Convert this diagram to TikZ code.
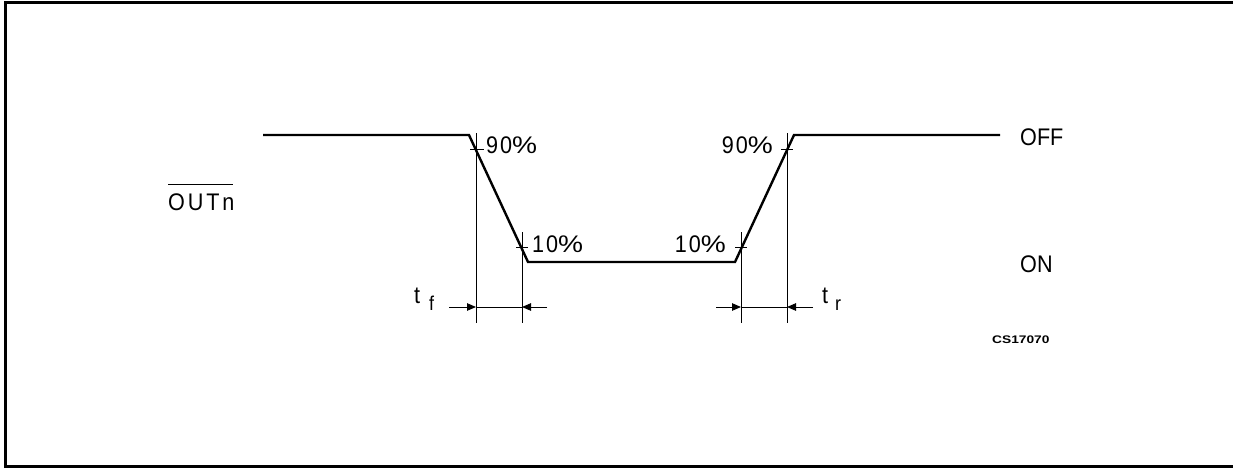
\documentclass[tikz,border=0pt]{standalone}
\usepackage{fontspec}
\usepackage{graphicx}
\usetikzlibrary{arrows.meta}
\newfontfamily\lbl[FakeStretch=0.9]{Liberation Sans}
\newfontfamily\lblw[FakeStretch=0.9,LetterSpace=8]{Liberation Sans}
\newfontfamily\lblww[FakeStretch=0.9,LetterSpace=12]{Liberation Sans}
\newfontfamily\csfont[FakeStretch=1.25]{Liberation Sans}
\newcommand{\wpct}{\scalebox{1.3}[1]{\%}}
\begin{document}
\begin{tikzpicture}[x=1pt,y=-1pt,
  signal/.style={line width=2.4pt,line join=miter},
  thin/.style={line width=0.9pt},
  dimarrow/.style={thin,-{Triangle[length=9pt,width=7.5pt]}},
  txt/.style={inner sep=0pt,font=\lbl\fontsize{24}{24}\selectfont},
  pct/.style={inner sep=0pt,font=\lblw\fontsize{24}{24}\selectfont},
  small/.style={inner sep=0pt,font=\csfont\bfseries\fontsize{11}{11}\selectfont}]
\useasboundingbox (0,0) rectangle (1233,468);
% frame (open at the right)
\draw[line width=3pt] (1233,2.5) -- (5,2.5) -- (5,466) -- (1233,466);
% signal corner points
\coordinate (s0) at (263,135);
\coordinate (s1) at (469,135);
\coordinate (s2) at (528,262);
\coordinate (s3) at (735,262);
\coordinate (s4) at (794,135);
\coordinate (s5) at (1000,135);
\draw[signal] (s0) -- (s1) -- (s2) -- (s3) -- (s4) -- (s5);
% reference verticals
\coordinate (fa) at (476,133); \coordinate (fab) at (476,323);
\coordinate (fb) at (522,232); \coordinate (fbb) at (522,323);
\coordinate (ra) at (741,232); \coordinate (rab) at (741,323);
\coordinate (rb) at (787,133); \coordinate (rbb) at (787,323);
\draw[thin] (fa) -- (fab) (fb) -- (fbb) (ra) -- (rab) (rb) -- (rbb);
% ticks
\draw[thin] (470,149) -- (484,149) (516,247) -- (528,247)
            (735,247) -- (747,247) (781,149) -- (793,149);
% dimension lines
\coordinate (fd1) at (476,307); \coordinate (fd2) at (522,307);
\coordinate (fl) at (449,307); \coordinate (fr) at (547,307);
\draw[dimarrow] (fl) -- (fd1);
\draw[thin] (fd1) -- (fd2);
\draw[dimarrow] (fr) -- (fd2);
\coordinate (rd1) at (741,307); \coordinate (rd2) at (787,307);
\coordinate (rl) at (716,307); \coordinate (rr) at (813,307);
\draw[dimarrow] (rl) -- (rd1);
\draw[thin] (rd1) -- (rd2);
\draw[dimarrow] (rr) -- (rd2);
% labels
\node[pct,anchor=base west] (p90f) at (486,153) {90\wpct};
\node[pct,anchor=base west] (p10f) at (532,252) {10\wpct};
\node[pct,anchor=base east] (p10r) at (726,252) {10\wpct};
\node[pct,anchor=base east] (p90r) at (773,153) {90\wpct};
\node[txt,anchor=base west] (off) at (1020,145) {OFF};
\node[txt,anchor=base west] (on) at (1020,272) {ON};
\node[txt,anchor=base west,font=\lblww\fontsize{24}{24}\selectfont] (outn) at (168,210) {OUTn};
\draw[line width=1pt] ([yshift=9pt]outn.north west) -- ([yshift=9pt,xshift=-2pt]outn.north east);
\node[txt,anchor=base west] (tf) at (414,303) {t};
\node[txt,anchor=base west,font=\lbl\fontsize{20}{20}\selectfont] (tfs) at (429,310) {f};
\node[txt,anchor=base west] (tr) at (822,303) {t};
\node[txt,anchor=base west,font=\lbl\fontsize{20}{20}\selectfont] (trs) at (835,310) {r};
\node[small,anchor=base west] (cs) at (992,343) {CS17070};
\end{tikzpicture}
\end{document}
